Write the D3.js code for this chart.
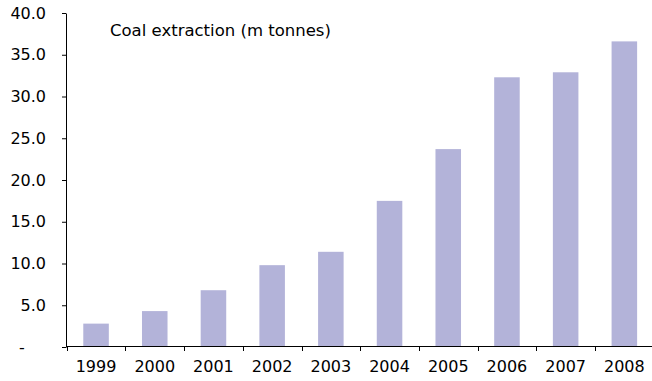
<!DOCTYPE html>
<html>
<head>
<meta charset="utf-8">
<script src="https://cdn.jsdelivr.net/npm/d3@7"></script>
<style>
  html, body { margin: 0; padding: 0; background: #fff; }
  svg { display: block; font-family: "DejaVu Sans", Verdana, sans-serif; }
</style>
</head>
<body>
<svg id="chart" width="652" height="381"></svg>
<script>
// ---- data ----
const years = ["1999", "2000", "2001", "2002", "2003", "2004", "2005", "2006", "2007", "2008"];
const coalExtraction = [2.8, 4.3, 6.8, 9.8, 11.4, 17.5, 23.7, 32.3, 32.9, 36.6];
const yTickValues = [0, 5, 10, 15, 20, 25, 30, 35, 40];
const yTickLabels = ["-", "5.0", "10.0", "15.0", "20.0", "25.0", "30.0", "35.0", "40.0"];
const chartTitle = "Coal extraction (m tonnes)";

// ---- layout ----
const svg = d3.select("#chart");
const plotLeft = 66.7, plotRight = 653.7, plotTop = 13, plotBottom = 347;
const barColor = "#b3b3d9";

const y = d3.scaleLinear().domain([0, 40]).range([plotBottom, plotTop]);
const x = d3.scaleBand().domain(years).range([plotLeft, plotRight])
  .paddingInner(0.565).paddingOuter(0.2825);
const slot = d3.scaleBand().domain(years).range([plotLeft, plotRight]).padding(0);

// bars
svg.append("g").selectAll("rect")
  .data(years.map((yr, i) => ({ yr, v: coalExtraction[i] })))
  .join("rect")
  .attr("x", d => x(d.yr))
  .attr("width", x.bandwidth())
  .attr("y", d => y(d.v))
  .attr("height", d => y(0) - y(d.v))
  .attr("fill", barColor);

// y axis
const yAxis = d3.axisLeft(y)
  .tickValues(yTickValues)
  .tickFormat((d, i) => yTickLabels[i])
  .tickSize(4)
  .tickSizeOuter(0)
  .tickPadding(16);
const gy = svg.append("g").attr("transform", "translate(66,0)").call(yAxis);
gy.select(".domain").attr("stroke", "#000");
gy.selectAll(".tick line").attr("stroke", "#000");
gy.selectAll(".tick text")
  .attr("font-size", 16)
  .attr("fill", "#000")
  .attr("font-family", "DejaVu Sans, Verdana, sans-serif");
// zero label ("-") sits further left, like an accounting format
gy.selectAll(".tick text").filter(d => d === 0)
  .attr("text-anchor", "middle")
  .attr("x", -44);

// x axis
const gx = svg.append("g");
gx.append("line")
  .attr("x1", 66).attr("x2", 652)
  .attr("y1", plotBottom - 0.5).attr("y2", plotBottom - 0.5)
  .attr("stroke", "#000");
const boundaries = years.map(yr => slot(yr)).concat([slot(years[years.length - 1]) + slot.bandwidth()]);
gx.selectAll("line.tick")
  .data(boundaries)
  .join("line")
  .attr("class", "tick")
  .attr("x1", d => Math.round(d) + 0.5).attr("x2", d => Math.round(d) + 0.5)
  .attr("y1", plotBottom - 0.5).attr("y2", plotBottom + 4)
  .attr("stroke", "#000");
gx.selectAll("text")
  .data(years)
  .join("text")
  .attr("x", d => slot(d) + slot.bandwidth() / 2)
  .attr("y", 372)
  .attr("text-anchor", "middle")
  .attr("font-size", 16)
  .attr("fill", "#000")
  .text(d => d);

// title
svg.append("text")
  .attr("x", 110)
  .attr("y", 36)
  .attr("font-size", 16.5)
  .attr("fill", "#000")
  .text(chartTitle);
</script>
</body>
</html>
